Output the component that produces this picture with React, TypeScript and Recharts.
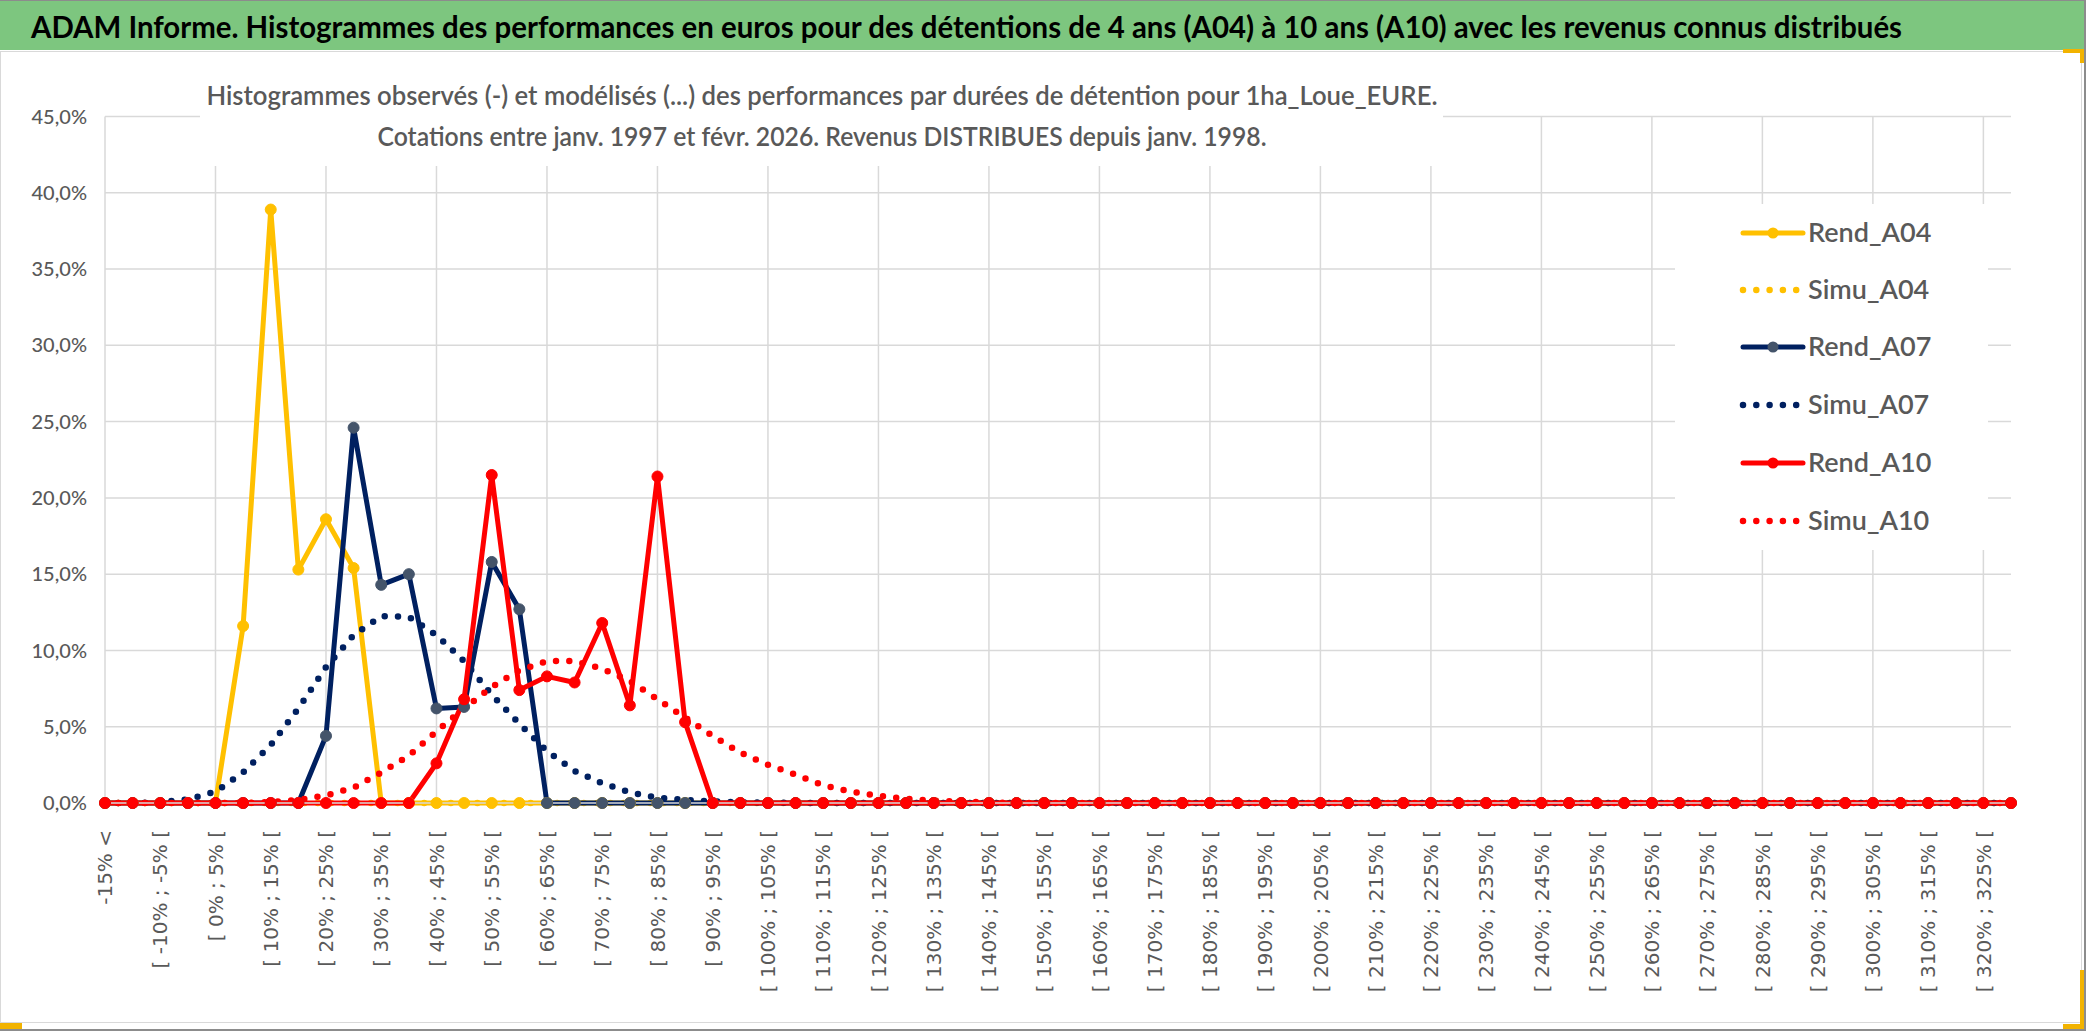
import React from "react";
import { LineChart, Line, XAxis, YAxis, CartesianGrid } from "recharts";

// classes de performance (pas de 5 %)
const categories = [
  "-15% <", "[ -15% ; -10% [", "[ -10% ; -5% [", "[ -5% ; 0% [", "[ 0% ; 5% [",
  "[ 5% ; 10% [", "[ 10% ; 15% [", "[ 15% ; 20% [", "[ 20% ; 25% [", "[ 25% ; 30% [",
  "[ 30% ; 35% [", "[ 35% ; 40% [", "[ 40% ; 45% [", "[ 45% ; 50% [", "[ 50% ; 55% [",
  "[ 55% ; 60% [", "[ 60% ; 65% [", "[ 65% ; 70% [", "[ 70% ; 75% [", "[ 75% ; 80% [",
  "[ 80% ; 85% [", "[ 85% ; 90% [", "[ 90% ; 95% [", "[ 95% ; 100% [", "[ 100% ; 105% [",
  "[ 105% ; 110% [", "[ 110% ; 115% [", "[ 115% ; 120% [", "[ 120% ; 125% [", "[ 125% ; 130% [",
  "[ 130% ; 135% [", "[ 135% ; 140% [", "[ 140% ; 145% [", "[ 145% ; 150% [", "[ 150% ; 155% [",
  "[ 155% ; 160% [", "[ 160% ; 165% [", "[ 165% ; 170% [", "[ 170% ; 175% [", "[ 175% ; 180% [",
  "[ 180% ; 185% [", "[ 185% ; 190% [", "[ 190% ; 195% [", "[ 195% ; 200% [", "[ 200% ; 205% [",
  "[ 205% ; 210% [", "[ 210% ; 215% [", "[ 215% ; 220% [", "[ 220% ; 225% [", "[ 225% ; 230% [",
  "[ 230% ; 235% [", "[ 235% ; 240% [", "[ 240% ; 245% [", "[ 245% ; 250% [", "[ 250% ; 255% [",
  "[ 255% ; 260% [", "[ 260% ; 265% [", "[ 265% ; 270% [", "[ 270% ; 275% [", "[ 275% ; 280% [",
  "[ 280% ; 285% [", "[ 285% ; 290% [", "[ 290% ; 295% [", "[ 295% ; 300% [", "[ 300% ; 305% [",
  "[ 305% ; 310% [", "[ 310% ; 315% [", "[ 315% ; 320% [", "[ 320% ; 325% [", "[ 325% ; 330% [",
];

// fréquences en %
const rendA04 = [
  0, 0, 0, 0, 0, 11.6, 38.9, 15.3, 18.6, 15.4,
  0, 0, 0, 0, 0, 0, 0, 0, 0, 0,
  0, 0, 0, 0, 0, 0, 0, 0, 0, 0,
  0, 0, 0, 0, 0, 0, 0, 0, 0, 0,
  0, 0, 0, 0, 0, 0, 0, 0, 0, 0,
  0, 0, 0, 0, 0, 0, 0, 0, 0, 0,
  0, 0, 0, 0, 0, 0, 0, 0, 0, 0,
];
const simuA04 = [
  0, 0, 0, 0, 0, 0, 0, 0, 0, 0,
  0, 0, 0, 0, 0, 0, 0, 0, 0, 0,
  0, 0, 0, 0, 0, 0, 0, 0, 0, 0,
  0, 0, 0, 0, 0, 0, 0, 0, 0, 0,
  0, 0, 0, 0, 0, 0, 0, 0, 0, 0,
  0, 0, 0, 0, 0, 0, 0, 0, 0, 0,
  0, 0, 0, 0, 0, 0, 0, 0, 0, 0,
];
const rendA07 = [
  0, 0, 0, 0, 0, 0, 0, 0, 4.4, 24.6,
  14.3, 15.0, 6.2, 6.3, 15.8, 12.7, 0, 0, 0, 0,
  0, 0, 0, 0, 0, 0, 0, 0, 0, 0,
  0, 0, 0, 0, 0, 0, 0, 0, 0, 0,
  0, 0, 0, 0, 0, 0, 0, 0, 0, 0,
  0, 0, 0, 0, 0, 0, 0, 0, 0, 0,
  0, 0, 0, 0, 0, 0, 0, 0, 0, 0,
];
const simuA07 = [
  0, 0, 0.05, 0.24, 0.74, 2.0, 3.8, 6.2, 8.9, 11.0,
  12.25, 12.2, 11.0, 9.3, 7.1, 5.2, 3.4, 2.1, 1.3, 0.7,
  0.35, 0.2, 0.1, 0.05, 0.02, 0, 0, 0, 0, 0,
  0, 0, 0, 0, 0, 0, 0, 0, 0, 0,
  0, 0, 0, 0, 0, 0, 0, 0, 0, 0,
  0, 0, 0, 0, 0, 0, 0, 0, 0, 0,
  0, 0, 0, 0, 0, 0, 0, 0, 0, 0,
];
const rendA10 = [
  0, 0, 0, 0, 0, 0, 0, 0, 0, 0,
  0, 0, 2.6, 6.8, 21.5, 7.4, 8.3, 7.9, 11.8, 6.4,
  21.4, 5.3, 0, 0, 0, 0, 0, 0, 0, 0,
  0, 0, 0, 0, 0, 0, 0, 0, 0, 0,
  0, 0, 0, 0, 0, 0, 0, 0, 0, 0,
  0, 0, 0, 0, 0, 0, 0, 0, 0, 0,
  0, 0, 0, 0, 0, 0, 0, 0, 0, 0,
];
const simuA10 = [
  0, 0, 0, 0, 0, 0, 0.07, 0.2, 0.5, 1.0,
  2.0, 3.1, 4.7, 6.2, 7.6, 8.7, 9.3, 9.3, 8.8, 8.0,
  6.8, 5.6, 4.4, 3.3, 2.5, 1.86, 1.16, 0.74, 0.48, 0.28,
  0.15, 0.08, 0.04, 0, 0, 0, 0, 0, 0, 0,
  0, 0, 0, 0, 0, 0, 0, 0, 0, 0,
  0, 0, 0, 0, 0, 0, 0, 0, 0, 0,
  0, 0, 0, 0, 0, 0, 0, 0, 0, 0,
];

const yTicks = [0, 5, 10, 15, 20, 25, 30, 35, 40, 45];

const TITLE =
  "ADAM Informe. Histogrammes des performances en euros pour des détentions de 4 ans (A04) à 10 ans (A10) avec les revenus connus distribués";
const SUB1 =
  "Histogrammes observés (-) et modélisés (...) des performances par durées de détention pour 1ha_Loue_EURE.";
const SUB2 = "Cotations entre janv. 1997 et févr. 2026. Revenus DISTRIBUES depuis janv. 1998.";

const YELLOW = "#FFC000";
const NAVY = "#002060";
const RED = "#FF0000";
const GRID = "#D9D9D9";
const TEXT = "#595959";
const FONT = "Lato, 'Open Sans', sans-serif";

// séries : nom, couleur, pointillé ou non
const series = [
  { key: "Rend_A04", color: YELLOW, marker: YELLOW, dotted: false },
  { key: "Simu_A04", color: YELLOW, marker: YELLOW, dotted: true },
  { key: "Rend_A07", color: NAVY, marker: "#44546A", dotted: false },
  { key: "Simu_A07", color: NAVY, marker: NAVY, dotted: true },
  { key: "Rend_A10", color: RED, marker: RED, dotted: false },
  { key: "Simu_A10", color: RED, marker: RED, dotted: true },
];

const data = categories.map((cat, i) => ({
  cat,
  Rend_A04: rendA04[i],
  Simu_A04: simuA04[i],
  Rend_A07: rendA07[i],
  Simu_A07: simuA07[i],
  Rend_A10: rendA10[i],
  Simu_A10: simuA10[i],
}));

const W = 2086;
const H = 1031;
const DOTS = "0 13.3";

// étiquettes verticales de l'axe X
const XTick = ({ x, y, payload }: any) => (
  <text
    x={x}
    y={y}
    transform={`rotate(-90, ${x}, ${y})`}
    textAnchor="end"
    dy="0.36em"
    fill={TEXT}
    fontSize={20}
    fontFamily="'DejaVu Sans', sans-serif"
  >
    {payload.value}
  </text>
);

// un trait vertical toutes les 4 classes
const verticalGrid = ({ xAxis, offset }: any) => {
  const idx = categories.map((_, i) => i).filter((i) => i % 4 === 0);
  if (xAxis && typeof xAxis.scale === "function") {
    return idx.map((i) => xAxis.scale(categories[i]));
  }
  const step = offset.width / (categories.length - 1);
  return idx.map((i) => offset.left + i * step);
};

const fmtPct = (v: number) => v.toFixed(1).replace(".", ",") + "%";

function LegendBox() {
  const rowY = [29, 86, 143, 201, 259, 317];
  return (
    <svg width={313} height={346} style={{ display: "block" }}>
      {series.map((s, i) => (
        <g key={s.key}>
          {s.dotted ? (
            <line
              x1={68}
              x2={124}
              y1={rowY[i]}
              y2={rowY[i]}
              stroke={s.color}
              strokeWidth={6.5}
              strokeLinecap="round"
              strokeDasharray={DOTS}
            />
          ) : (
            <>
              <line x1={68} x2={128} y1={rowY[i]} y2={rowY[i]} stroke={s.color} strokeWidth={5} strokeLinecap="round" />
              <circle cx={98} cy={rowY[i]} r={5.5} fill={s.marker} />
            </>
          )}
          <text x={133} y={rowY[i]} dy="0.35em" fill={TEXT} fontSize={27} fontWeight={600} fontFamily={FONT}>
            {s.key}
          </text>
        </g>
      ))}
    </svg>
  );
}

export default function App() {
  return (
    <div style={{ position: "absolute", left: 0, top: 0, width: W, height: H, background: "#fff", overflow: "hidden" }}>
      {/* cadre du graphique */}
      <div
        style={{
          position: "absolute",
          left: 0,
          top: 51,
          width: 2082,
          height: 972,
          border: `1.5px solid ${GRID}`,
          boxSizing: "border-box",
        }}
      />
      <div style={{ position: "absolute", left: 0, top: 0 }}>
        <LineChart width={W} height={H} data={data} margin={{ top: 116.5, right: 75, left: 0, bottom: 0 }}>
          <CartesianGrid stroke={GRID} strokeWidth={1.5} verticalCoordinatesGenerator={verticalGrid} />
          <XAxis
            dataKey="cat"
            interval={1}
            height={228}
            tickLine={false}
            tickSize={0}
            tickMargin={27}
            axisLine={{ stroke: GRID, strokeWidth: 1.5 }}
            tick={<XTick />}
          />
          <YAxis
            width={105}
            domain={[0, 45]}
            ticks={yTicks}
            tickFormatter={fmtPct}
            axisLine={false}
            tickLine={false}
            tickSize={0}
            tickMargin={18}
            tick={{ fill: TEXT, fontSize: 20, fontWeight: 500, fontFamily: FONT }}
          />
          {series.map((s) =>
            s.dotted ? (
              <Line
                key={s.key}
                type="linear"
                dataKey={s.key}
                stroke={s.color}
                strokeWidth={6.5}
                strokeLinecap="round"
                strokeDasharray={DOTS}
                dot={false}
                activeDot={false}
                isAnimationActive={false}
              />
            ) : (
              <Line
                key={s.key}
                type="linear"
                dataKey={s.key}
                stroke={s.color}
                strokeWidth={5}
                strokeLinejoin="round"
                dot={{ r: 5.5, fill: s.marker, stroke: s.marker, strokeWidth: 1 }}
                activeDot={false}
                isAnimationActive={false}
              />
            )
          )}
        </LineChart>
      </div>

      {/* bandeau titre */}
      <div
        style={{
          position: "absolute",
          left: 0,
          top: 0,
          width: W,
          height: 50,
          background: "#7DC67F",
          borderTop: "1.5px solid #8C8C8C",
          boxSizing: "border-box",
        }}
      >
        <svg width={W} height={50} style={{ display: "block" }}>
          <text
            x={31}
            y={37}
            fontSize={31}
            fontWeight={700}
            fontFamily={FONT}
            fill="#000"
            textLength={1871}
            lengthAdjust="spacingAndGlyphs"
          >
            {TITLE}
          </text>
        </svg>
      </div>

      {/* sous-titre sur fond blanc */}
      <div style={{ position: "absolute", left: 200, top: 55, width: 1243, height: 111, background: "#fff" }}>
        <svg width={1243} height={111} style={{ display: "block", overflow: "visible" }}>
          <text
            x={622}
            y={50}
            textAnchor="middle"
            fontSize={26}
            fontWeight={600}
            fontFamily={FONT}
            fill={TEXT}
            textLength={1231}
            lengthAdjust="spacingAndGlyphs"
          >
            {SUB1}
          </text>
          <text
            x={622}
            y={91}
            textAnchor="middle"
            fontSize={26}
            fontWeight={600}
            fontFamily={FONT}
            fill={TEXT}
            textLength={889}
            lengthAdjust="spacingAndGlyphs"
          >
            {SUB2}
          </text>
        </svg>
      </div>

      {/* légende */}
      <div style={{ position: "absolute", left: 1675, top: 204, width: 313, height: 346, background: "#fff" }}>
        <LegendBox />
      </div>

      {/* bordures extérieures et poignées de sélection */}
      <div style={{ position: "absolute", right: 0, top: 0, width: 2, height: H, background: "#8C8C8C" }} />
      <div style={{ position: "absolute", left: 0, bottom: 0, width: W, height: 2, background: "#8C8C8C" }} />
      <div style={{ position: "absolute", left: 0, top: 1023, width: 22, height: 6, background: "#F2B300" }} />
      <div style={{ position: "absolute", left: 2063, top: 49, width: 21, height: 4, background: "#F2B300" }} />
      <div style={{ position: "absolute", left: 2080, top: 49, width: 4, height: 14, background: "#F2B300" }} />
      <div style={{ position: "absolute", left: 2080, top: 970, width: 4, height: 59, background: "#F2B300" }} />
      <div style={{ position: "absolute", left: 2063, top: 1024, width: 21, height: 5, background: "#F2B300" }} />
    </div>
  );
}
